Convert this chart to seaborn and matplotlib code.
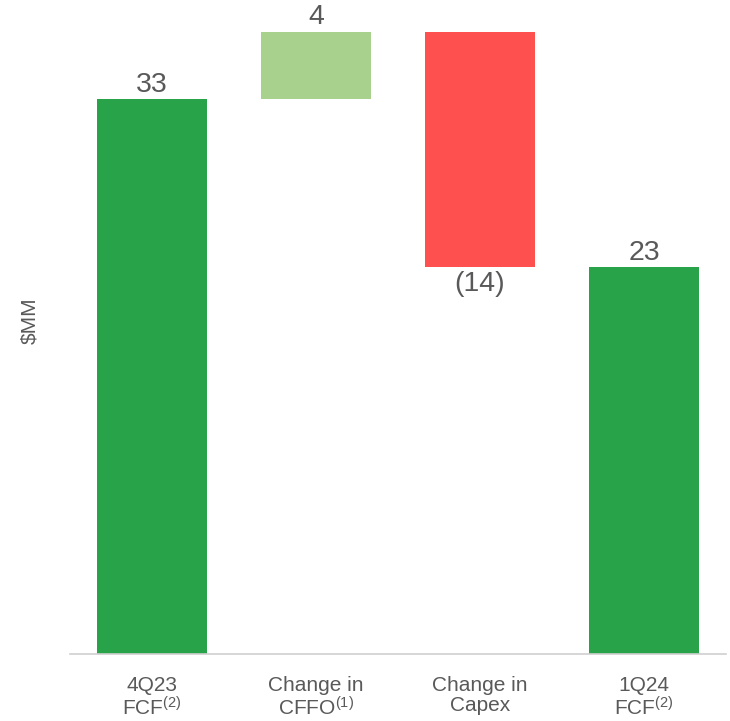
import matplotlib
matplotlib.use("Agg")
import matplotlib.pyplot as plt
import seaborn as sns
import pandas as pd
from matplotlib import font_manager

categories = ["4Q23\nFCF$^{(2)}$", "Change in\nCFFO$^{(1)}$", "Change in\nCapex", "1Q24\nFCF$^{(2)}$"]
changes = [33, 4, -14, 23]
is_total = [True, False, False, True]
value_labels = ["33", "4", "(14)", "23"]
bar_colors = ["#28A349", "#A9D18E", "#FF5050", "#28A349"]

# compute floating bar bases
bases, tops = [], []
running = 0
for v, tot in zip(changes, is_total):
    if tot:
        b, t = 0, v
        running = v
    else:
        b, t = min(running, running + v), max(running, running + v)
        running += v
    bases.append(b)
    tops.append(t)

sns.set_theme(style="white")
names = {f.name for f in font_manager.fontManager.ttflist}
fam = "Liberation Sans Narrow" if "Liberation Sans Narrow" in names else "Liberation Sans"
plt.rcParams["font.family"] = [fam, "DejaVu Sans"]
plt.rcParams["mathtext.fontset"] = "custom"
plt.rcParams["mathtext.rm"] = fam
plt.rcParams["mathtext.it"] = fam
plt.rcParams["mathtext.default"] = "rm"

gray = "#595959"
fig = plt.figure(figsize=(7.3, 7.21), dpi=100)
ax = fig.add_axes([70 / 730, 67 / 721, 656 / 730, 654 / 721])

df = pd.DataFrame({"cat": categories, "top": tops, "base": bases})
sns.barplot(data=df, x="cat", y="top", hue="cat", palette=bar_colors, legend=False,
            width=0.67, ax=ax, saturation=1, linewidth=0)
sns.barplot(data=df, x="cat", y="base", color="white", width=0.69, ax=ax,
            saturation=1, linewidth=0)

ax.set_ylim(0, 38.9)
ax.set_xlim(-0.5, 3.5)
for i, (v, lab) in enumerate(zip(changes, value_labels)):
    if v >= 0:
        ax.text(i, tops[i] + 0.1, lab, ha="center", va="bottom", fontsize=20.5,
                color=gray, family=["Liberation Sans", "DejaVu Sans"])
    else:
        ax.text(i, bases[i] - 0.2, lab, ha="center", va="top", fontsize=20.5,
                color=gray, family=["Liberation Sans", "DejaVu Sans"])

ax.set_yticks([])
ax.set_xlabel("")
ax.set_ylabel("$MM", fontsize=15, color=gray, family=["Liberation Sans", "DejaVu Sans"], labelpad=22)
ax.yaxis.label.set_y(0.51)
ax.tick_params(axis="x", length=0, pad=16, labelsize=15, labelcolor=gray)
for t in ax.get_xticklabels():
    t.set_linespacing(1.05)
for s in ["top", "right", "left"]:
    ax.spines[s].set_visible(False)
ax.spines["bottom"].set_color("#D0D0D0")
ax.spines["bottom"].set_linewidth(1.2)

fig.savefig("out.png", dpi=100, facecolor="white")
